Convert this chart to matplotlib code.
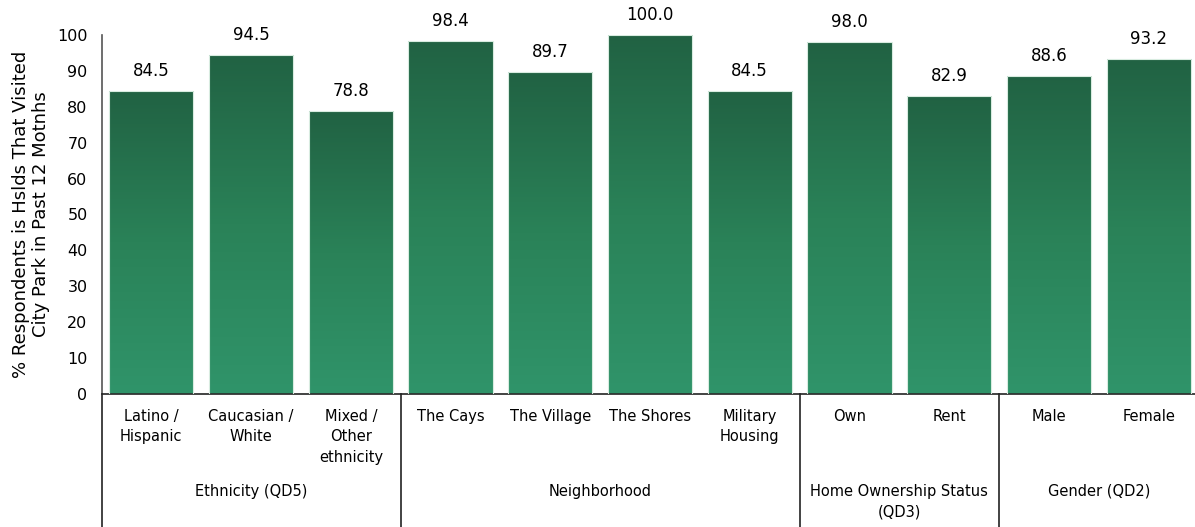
import numpy as np
import matplotlib
matplotlib.use("Agg")
import matplotlib.pyplot as plt
from matplotlib.colors import LinearSegmentedColormap

categories = ["Latino /\nHispanic", "Caucasian /\nWhite", "Mixed /\nOther\nethnicity",
              "The Cays", "The Village", "The Shores", "Military\nHousing",
              "Own", "Rent", "Male", "Female"]
values = [84.5, 94.5, 78.8, 98.4, 89.7, 100.0, 84.5, 98.0, 82.9, 88.6, 93.2]
groups = ["Ethnicity (QD5)", "Neighborhood", "Home Ownership Status\n(QD3)", "Gender (QD2)"]
group_sizes = [3, 4, 2, 2]
yticks = [0, 10, 20, 30, 40, 50, 60, 70, 80, 90, 100]

W, H = 1195, 527
fig = plt.figure(figsize=(W / 100, H / 100), dpi=100)
ax = fig.add_axes([101.5 / W, (H - 394) / H, 1097 / W, 359 / H])

cmap = LinearSegmentedColormap.from_list("grn", ["#30946a", "#2a8258", "#216243"])
grad = np.linspace(0, 1, 256).reshape(-1, 1)
width = 0.845

x = np.arange(len(values))
bars = ax.bar(x, values, width, color="none", edgecolor="#d8ece0", linewidth=0.8, zorder=3)
for bar, v in zip(bars, values):
    x0 = bar.get_x()
    im = ax.imshow(grad, cmap=cmap, origin="lower", aspect="auto",
                   extent=[x0, x0 + width, 0, v], zorder=2)
    im.set_clip_path(bar)
    ax.annotate(f"{v:.1f}", (bar.get_x() + width / 2, v), xytext=(0, 8),
                textcoords="offset points", ha="center", va="bottom", fontsize=12)

ax.set_xlim(-0.5, len(values) - 0.5)
ax.set_ylim(0, 100)
ax.set_yticks(yticks)
ax.tick_params(axis="y", length=0, labelsize=11.5, pad=10)
ax.set_xticks([])
for s in ["top", "right"]:
    ax.spines[s].set_visible(False)
ax.spines["left"].set_color("#555555")
ax.spines["left"].set_linewidth(1.2)
ax.spines["bottom"].set_color("#222222")
ax.spines["bottom"].set_linewidth(1.2)

# y label placed by hand so both lines sit like the original
fig.text(31 / W, (H - 214) / H,
         "% Respondents is Hslds That Visited\nCity Park in Past 12 Motnhs",
         rotation=90, ha="center", va="center", fontsize=13, linespacing=1.15,
         multialignment="center")

tr = ax.get_xaxis_transform()
for xi, c in zip(x, categories):
    ax.text(xi, -0.042, c, transform=tr, ha="center", va="top", fontsize=10.5,
            linespacing=1.45)

start = 0
bounds = [-0.5]
for g, n in zip(groups, group_sizes):
    center = start + (n - 1) / 2
    ax.text(center, -0.25, g, transform=tr, ha="center", va="top", fontsize=10.5,
            linespacing=1.45)
    start += n
    bounds.append(start - 0.5)
for b in bounds:
    ax.plot([b, b], [0, -0.37], transform=tr, color="#222222", lw=1.2, clip_on=False)

fig.savefig("out.png", dpi=100)
